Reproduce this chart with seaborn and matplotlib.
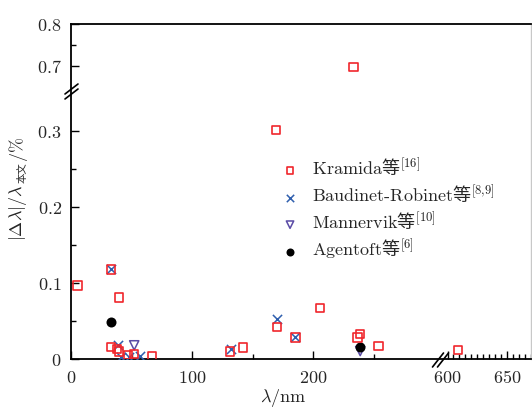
import numpy as np
import matplotlib
matplotlib.use('Agg')
import matplotlib.pyplot as plt
import seaborn as sns
import pandas as pd
from matplotlib.lines import Line2D

# ---------------- data ----------------
kramida_x = [5, 32.7, 39.5, 32.5, 37.5, 39.5, 46.9, 51.9, 66.7, 131, 141.7, 169.2,
             170, 185.2, 205.5, 233.2, 236.5, 238.7, 253.8, 609]
kramida_y = [0.097, 0.118, 0.081, 0.016, 0.013, 0.010, 0.005, 0.0065, 0.004, 0.010, 0.015, 0.302,
             0.0425, 0.0285, 0.0675, 0.697, 0.0285, 0.033, 0.017, 0.012]
baudinet_x = [32.7, 38.6, 41.0, 47.5, 56.6, 131.8, 170.3, 185.2]
baudinet_y = [0.118, 0.018, 0.003, 0.002, 0.004, 0.013, 0.0525, 0.0285]
mannervik_x = [51.9, 238.7]
mannervik_y = [0.018, 0.0105]
agentoft_x = [32.7, 238.7]
agentoft_y = [0.049, 0.0155]

series_labels = ['$\\mathrm{Kramida}$等$^{[16]}$',
                 '$\\mathrm{Baudinet\\text{-}Robinet}$等$^{[8{,}9]}$',
                 '$\\mathrm{Mannervik}$等$^{[10]}$',
                 '$\\mathrm{Agentoft}$等$^{[6]}$']

x_major = [0, 100, 200, 600, 650]
x_minor = [50, 150, 250] + [v for v in range(605, 671, 5) if v != 650]
y_major = [0, 0.1, 0.2, 0.3, 0.7, 0.8]
y_major_labels = ['0', '0.1', '0.2', '0.3', '0.7', '0.8']
y_minor = [0.05, 0.15, 0.25, 0.75]

# ---------------- style ----------------
sns.set_style('ticks')
plt.rcParams['font.family'] = ['Noto Sans CJK SC', 'DejaVu Sans']
plt.rcParams['mathtext.fontset'] = 'cm'
plt.rcParams['axes.unicode_minus'] = False
FS = 13

W, H = 532, 408
fig = plt.figure(figsize=(W / 100, H / 100), dpi=100)
ax = fig.add_axes([71.4 / W, 49 / H, 459.6 / W, 335 / H])

# broken-axis scales (piecewise linear)
XB0, XB1, XSL, XSR, XG = 304.0, 593.2, 1.213, 1.19, 0.3
def fx(x):
    x = np.asarray(x, float)
    a = XB0 * XSL
    return np.where(x <= XB0, x * XSL,
                    np.where(x >= XB1, a + XG + (x - XB1) * XSR,
                             a + (x - XB0) / (XB1 - XB0) * XG))
def ifx(u):
    u = np.asarray(u, float)
    a = XB0 * XSL
    return np.where(u <= a, u / XSL,
                    np.where(u >= a + XG, XB1 + (u - a - XG) / XSR,
                             XB0 + (u - a) / XG * (XB1 - XB0)))

YB0, YB1, YSL, YSU, YG = 0.354, 0.643, 760.0, 420.0, 0.5
def fy(y):
    y = np.asarray(y, float)
    a = YB0 * YSL
    return np.where(y <= YB0, y * YSL,
                    np.where(y >= YB1, a + YG + (y - YB1) * YSU,
                             a + (y - YB0) / (YB1 - YB0) * YG))
def ify(u):
    u = np.asarray(u, float)
    a = YB0 * YSL
    return np.where(u <= a, u / YSL,
                    np.where(u >= a + YG, YB1 + (u - a - YG) / YSU,
                             YB0 + (u - a) / YG * (YB1 - YB0)))

ax.set_xscale('function', functions=(fx, ifx))
ax.set_yscale('function', functions=(fy, ify))

RED = '#f0262c'
BLUE = '#2f5fae'
PURP = '#5a4ba6'

# draw order: triangle, circle, x, square
sns.scatterplot(data=pd.DataFrame({'x': mannervik_x, 'y': mannervik_y}), x='x', y='y', ax=ax,
                marker='v', s=44, facecolor='none', edgecolor=PURP, linewidth=1.1,
                label=series_labels[2], zorder=3)
sns.scatterplot(data=pd.DataFrame({'x': agentoft_x, 'y': agentoft_y}), x='x', y='y', ax=ax,
                marker='o', s=52, color='black', edgecolor='black', linewidth=0,
                label=series_labels[3], zorder=4)
sns.scatterplot(data=pd.DataFrame({'x': baudinet_x, 'y': baudinet_y}), x='x', y='y', ax=ax,
                marker='x', s=44, color=BLUE, linewidth=1.1,
                label=series_labels[1], zorder=5)
sns.scatterplot(data=pd.DataFrame({'x': kramida_x, 'y': kramida_y}), x='x', y='y', ax=ax,
                marker='s', s=36, facecolor='none', edgecolor=RED, linewidth=1.2,
                label=series_labels[0], zorder=6)

ax.set_xlim(0, 670.3)
ax.set_ylim(0, 0.8)
ax.set_xticks(x_major)
ax.set_xticklabels(['$%d$' % v for v in x_major], fontsize=FS)
ax.set_xticks(x_minor, minor=True)
ax.set_yticks(y_major)
ax.set_yticklabels(['$%s$' % s for s in y_major_labels], fontsize=FS)
ax.set_yticks(y_minor, minor=True)
ax.tick_params(which='both', direction='in', top=False, right=False, color='black')
ax.tick_params(which='major', length=6, width=1.0, pad=7)
ax.tick_params(which='minor', length=3.5, width=1.0)
ax.set_xlabel('')
ax.set_ylabel('')
for side in ['left', 'bottom', 'top']:
    ax.spines[side].set_color('black')
    ax.spines[side].set_linewidth(1.3)
ax.spines['right'].set_color('#c8c8c8')
ax.spines['right'].set_linewidth(1.0)

# legend
handles, labels = ax.get_legend_handles_labels()
order = [labels.index(l) for l in series_labels]
leg = ax.legend([handles[i] for i in order], [labels[i] for i in order],
                loc='upper left', bbox_to_anchor=(281 / W, 1 - 157 / H),
                bbox_transform=fig.transFigure, frameon=False, fontsize=FS,
                handlelength=1.0, handletextpad=0.7, labelspacing=0.26,
                markerscale=0.8, borderpad=0, borderaxespad=0)

# break marks (figure pixel coords, y from top)
def px(x, y):
    return x / W, 1 - y / H
def brk(x0, y0, x1, y1):
    (a, b), (c, d) = px(x0, y0), px(x1, y1)
    fig.add_artist(Line2D([a, c], [b, d], transform=fig.transFigure, color='black', lw=1.2))
# y axis break near (71, 91)
brk(65, 99, 78, 89)
brk(65, 94, 78, 84)
# x axis break near (440, 360)
brk(432.5, 367, 443.5, 353)
brk(437.5, 367, 448.5, 353)

# axis labels
fig.text(283 / W, 1 - 398 / H, '$\\lambda/\\mathrm{nm}$', ha='center', va='center', fontsize=FS)

renderer = fig.canvas.get_renderer()
t1 = fig.text(18 / W, 1 - 241 / H, '$|\\Delta\\lambda|/\\lambda$', rotation=90,
              ha='center', va='bottom', fontsize=FS)
e1 = t1.get_window_extent(renderer)
t2 = fig.text(23 / W, (e1.y1 + 1) / H, '本文', rotation=90, ha='center', va='bottom', fontsize=7.5)
e2 = t2.get_window_extent(renderer)
t3 = fig.text(18 / W, (e2.y1 + 1) / H, '$/\\%$', rotation=90, ha='center', va='bottom', fontsize=FS)

fig.savefig('out.png', dpi=100)
